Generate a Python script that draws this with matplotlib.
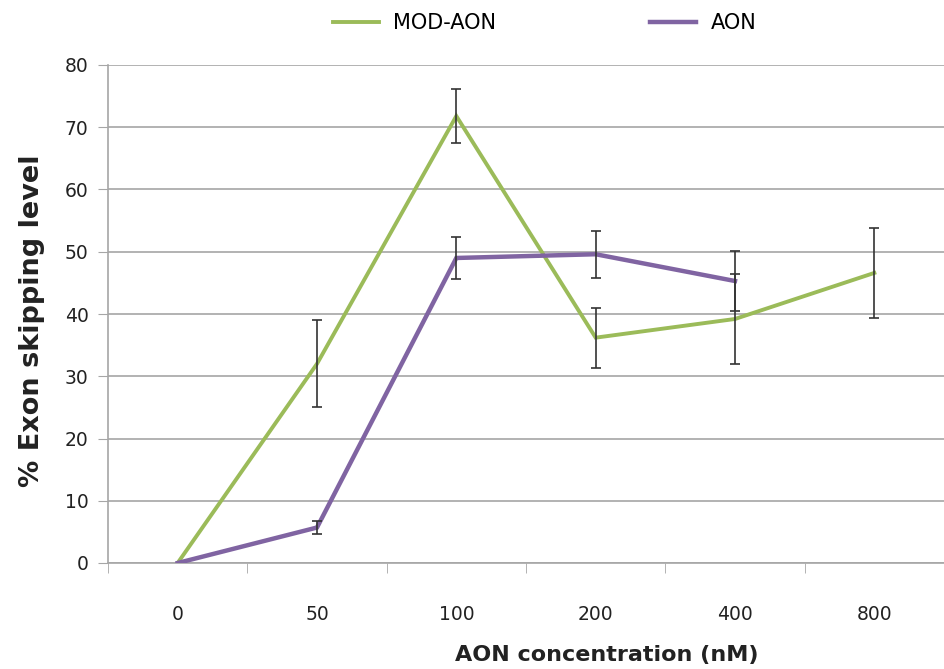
import matplotlib

matplotlib.use("Agg")
import matplotlib.pyplot as plt
import numpy as np

# concentrations (categorical x axis)
conc_labels = ["0", "50", "100", "200", "400", "800"]

# MOD-AON series
mod_vals = [0, 32.0, 71.8, 36.2, 39.2, 46.6]
mod_err = [0, 7.0, 4.3, 4.8, 7.2, 7.2]

# AON series (no 800 nM point)
aon_vals = [0, 5.7, 49.0, 49.6, 45.3]
aon_err = [0, 1.0, 3.3, 3.8, 4.8]

GREEN = "#9BBB59"
PURPLE = "#8064A2"
GRID = "#A6A6A6"
TXT = "#222222"

plt.rcParams.update({"font.family": "DejaVu Sans", "font.size": 13})

fig = plt.figure(figsize=(9.44, 6.69), dpi=100)
ax = fig.add_axes([108 / 944, 1 - 563 / 669, 836 / 944, 498 / 669])

x_mod = np.arange(len(mod_vals))
x_aon = np.arange(len(aon_vals))

ax.plot(x_mod, mod_vals, color=GREEN, lw=2.8, label="MOD-AON", zorder=3, solid_joinstyle="miter")
ax.plot(x_aon, aon_vals, color=PURPLE, lw=3.2, label="AON", zorder=3, solid_joinstyle="miter")
ax.errorbar(x_mod[1:], mod_vals[1:], yerr=mod_err[1:], fmt="none", ecolor="#333333",
            elinewidth=1.2, capsize=3.5, capthick=1.2, zorder=4)
ax.errorbar(x_aon[1:], aon_vals[1:], yerr=aon_err[1:], fmt="none", ecolor="#333333",
            elinewidth=1.2, capsize=3.5, capthick=1.2, zorder=4)

ax.set_ylim(0, 80)
ax.set_xlim(-0.5, 5.43)
ax.set_yticks(range(0, 81, 10))
ax.yaxis.grid(True, color=GRID, lw=1.2)
ax.set_axisbelow(True)

ax.set_xticks(x_mod)
ax.set_xticklabels(conc_labels)
ax.set_xticks(np.arange(-0.5, 6, 1), minor=True)
ax.tick_params(axis="x", which="major", length=0, pad=30, labelcolor=TXT, labelsize=13.5)
ax.tick_params(axis="x", which="minor", length=7, color=GRID, direction="out")
ax.tick_params(axis="y", length=7, color=GRID, pad=7, labelcolor=TXT, labelsize=13.5)

for s in ("top", "right"):
    ax.spines[s].set_visible(False)
for s in ("left", "bottom"):
    ax.spines[s].set_color(GRID)
    ax.spines[s].set_linewidth(1.2)

# axis titles placed as in the source figure
fig.text(32 / 944, 1 - 321 / 669, "% Exon skipping level", rotation=90, ha="center", va="center",
         fontsize=19.5, weight="bold", color=TXT)
fig.text(607 / 944, 1 - 655 / 669, "AON concentration (nM)", ha="center", va="center",
         fontsize=16, weight="bold", color=TXT)

fig.legend(loc="upper center", bbox_to_anchor=(0.577, 1.008), ncol=2, frameon=False,
           handlelength=2.2, handletextpad=0.7, columnspacing=7.4, fontsize=15)

fig.savefig("out.png", dpi=100)
